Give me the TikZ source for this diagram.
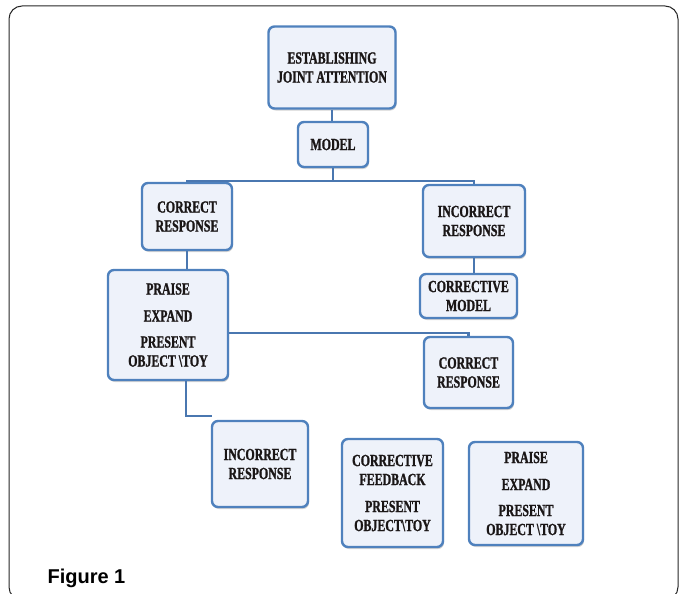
\documentclass[tikz,border=0pt]{standalone}
\usepackage{fontspec}
\setmainfont{Liberation Serif}[FakeStretch=0.7, BoldFeatures={FakeBold=1.2}]
\newfontfamily\figfont{Liberation Sans}
\usetikzlibrary{shadows}
\definecolor{boxblue}{HTML}{4F81BD}
\definecolor{boxfill}{HTML}{EEF2FA}
\definecolor{linkblue}{HTML}{4A77B0}
\definecolor{txt}{HTML}{1A1616}
\tikzset{
  stepbox/.style={draw=boxblue, line width=2.4pt, fill=boxfill, rounded corners=6pt,
    align=center, inner sep=2pt, text=txt,
    font=\fontsize{17}{19}\selectfont\bfseries,
    drop shadow={opacity=0.35, shadow xshift=1pt, shadow yshift=-2pt}},
  link/.style={draw=linkblue, line width=2.2pt},
}
\begin{document}
\begin{tikzpicture}[x=1pt,y=-1pt]
\useasboundingbox (0,0) rectangle (683,594);
\begin{scope}
\clip (0,0) rectangle (683,594);
\draw[line width=1pt, rounded corners=13pt, black!85] (9,6) rectangle (678,600);
\end{scope}
\node[anchor=base west, font=\figfont\fontsize{20}{22}\selectfont\bfseries] (fig) at (44,583) {Figure 1};

\node[stepbox, minimum width=127pt, minimum height=82pt] (ja) at (332,67.5) {ESTABLISHING\\JOINT ATTENTION};
\node[stepbox, minimum width=70pt, minimum height=45pt] (model) at (333,144.5) {MODEL};
\node[stepbox, minimum width=90pt, minimum height=67pt] (cr1) at (187,216.5) {CORRECT\\RESPONSE};
\node[stepbox, minimum width=102pt, minimum height=72pt] (ir1) at (474,221) {INCORRECT\\RESPONSE};
\node[stepbox, minimum width=97pt, minimum height=44pt] (cm) at (468.5,296) {CORRECTIVE\\MODEL};
\node[stepbox, minimum width=120pt, minimum height=110pt] (pe1) at (168,325) {PRAISE\\[8pt]EXPAND\\[7pt]PRESENT\\OBJECT \textbackslash TOY};
\node[stepbox, minimum width=89pt, minimum height=71pt] (cr2) at (468.5,372.5) {CORRECT\\RESPONSE};
\node[stepbox, minimum width=96pt, minimum height=86pt] (ir2) at (260,464) {INCORRECT\\RESPONSE};
\node[stepbox, minimum width=101pt, minimum height=108pt] (cf) at (392.5,493) {CORRECTIVE\\FEEDBACK\\[8pt]PRESENT\\OBJECT\textbackslash TOY};
\node[stepbox, minimum width=114pt, minimum height=103pt] (pe2) at (526,493.5) {PRAISE\\[8pt]EXPAND\\[7pt]PRESENT\\OBJECT \textbackslash TOY};

\coordinate (split) at (333,181);
\draw[link] (ja.south) -- (ja.south |- model.north);
\draw[link] (model.south) -- (split);
\draw[link] (cr1.north) |- (split) -| (ir1.north);
\draw[link] (ir1.south) -- (ir1.south |- cm.north);
\draw[link] (cr1.south) -- (cr1.south |- pe1.north);
\draw[link] ([yshift=-8pt]pe1.east) -| (cr2.north);
\draw[link] ([xshift=18pt]pe1.south) |- ([yshift=4pt,xshift=1pt]ir2.north west);
\end{tikzpicture}
\end{document}
